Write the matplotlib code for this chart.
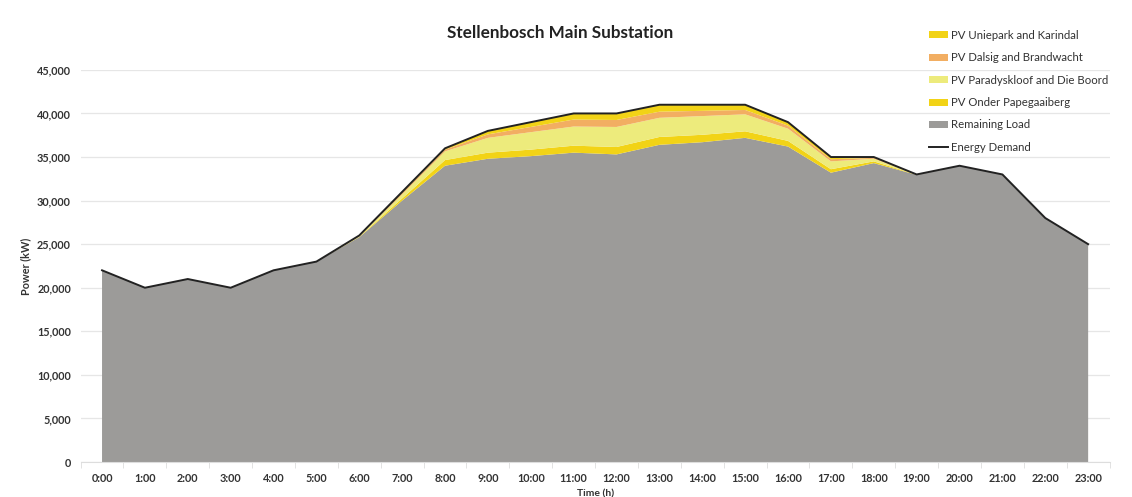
import numpy as np
import matplotlib.pyplot as plt
from matplotlib.ticker import FuncFormatter

plt.rcParams['font.family'] = ['Lato', 'DejaVu Sans']

hours = ['0:00', '1:00', '2:00', '3:00', '4:00', '5:00', '6:00', '7:00', '8:00', '9:00',
         '10:00', '11:00', '12:00', '13:00', '14:00', '15:00', '16:00', '17:00', '18:00',
         '19:00', '20:00', '21:00', '22:00', '23:00']

energy_demand = [22000, 20000, 21000, 20000, 22000, 23000, 26000, 31000, 36000, 38000,
                 39000, 40000, 40000, 41000, 41000, 41000, 39000, 35000, 35000,
                 33000, 34000, 33000, 28000, 25000]
remaining_load = [22000, 20000, 21000, 20000, 22000, 23000, 25800, 30000, 34000, 34800,
                  35100, 35500, 35300, 36400, 36700, 37200, 36200, 33200, 34300,
                  32950, 34000, 33000, 28000, 25000]
pv_onder = [0, 0, 0, 0, 0, 0, 50, 250, 650, 700,
            750, 800, 850, 900, 850, 750, 650, 400, 200,
            20, 0, 0, 0, 0]
pv_paradys = [0, 0, 0, 0, 0, 0, 80, 450, 1000, 1700,
              2000, 2200, 2300, 2200, 2150, 1950, 1400, 900, 300,
              20, 0, 0, 0, 0]
pv_dalsig = [0, 0, 0, 0, 0, 0, 30, 150, 200, 400,
             600, 800, 800, 700, 600, 500, 350, 250, 100,
             0, 0, 0, 0, 0]
pv_uniepark = [0, 0, 0, 0, 0, 0, 40, 150, 150, 400,
               550, 700, 750, 800, 700, 600, 400, 250, 100,
               10, 0, 0, 0, 0]

c_gray = '#9C9B99'
c_onder = '#F2D316'
c_paradys = '#EDEB7C'
c_dalsig = '#F2AE62'
c_uniepark = '#F2D316'

fig = plt.figure(figsize=(11.32, 4.97), dpi=100)
ax = fig.add_axes([0.0712, 0.0704, 0.909, 0.789])

x = np.arange(len(hours))
polys = ax.stackplot(x, remaining_load, pv_onder, pv_paradys, pv_dalsig, pv_uniepark,
                     colors=[c_gray, c_onder, c_paradys, c_dalsig, c_uniepark],
                     labels=['Remaining Load', 'PV Onder Papegaaiberg',
                             'PV Paradyskloof and Die Boord', 'PV Dalsig and Brandwacht',
                             'PV Uniepark and Karindal'],
                     linewidth=0, zorder=2)
line, = ax.plot(x, energy_demand, color='#222222', linewidth=1.4, zorder=3,
                label='Energy Demand')

ax.set_xlim(-0.5, 23.5)
ax.set_ylim(0, 45000)
ax.set_yticks(np.arange(0, 45001, 5000))
ax.yaxis.set_major_formatter(FuncFormatter(lambda v, p: '{:,.0f}'.format(v)))
ax.set_xticks(x)
ax.set_xticklabels(hours)
ax.set_xticks(np.arange(-0.5, 24, 1), minor=True)
ax.tick_params(axis='x', which='major', length=0, pad=8, labelsize=7.8, colors='#333333')
ax.tick_params(axis='x', which='minor', length=4, color='#DDDDDD')
ax.tick_params(axis='y', length=0, pad=7, labelsize=7.8, colors='#333333')
for lab in ax.get_xticklabels() + ax.get_yticklabels():
    lab.set_fontweight('bold')

ax.grid(axis='y', color='#E6E6E6', linewidth=0.9, zorder=0)
ax.set_axisbelow(True)
for side in ['top', 'right', 'left']:
    ax.spines[side].set_visible(False)
ax.spines['bottom'].set_color('#DDDDDD')

ax.set_ylabel('Power (kW)', fontsize=7.8, fontweight='bold', color='#333333', labelpad=4)
ax.set_xlabel('Time (h)', fontsize=7.5, fontweight='bold', color='#333333', labelpad=4)

fig.text(0.495, 0.933, 'Stellenbosch Main Substation', ha='center', va='center',
         fontsize=12.3, fontweight='bold', color='#222222')

handles = [polys[4], polys[3], polys[2], polys[1], polys[0], line]
labels = [h.get_label() for h in handles]
ax.legend(handles, labels, loc='upper left', bbox_to_anchor=(0.815, 1.128),
          frameon=False, fontsize=8.2, handlelength=1.6, handleheight=0.55,
          handletextpad=0.25, labelspacing=1.0, labelcolor='#333333')

fig.savefig('out.png', dpi=100, facecolor='white')
